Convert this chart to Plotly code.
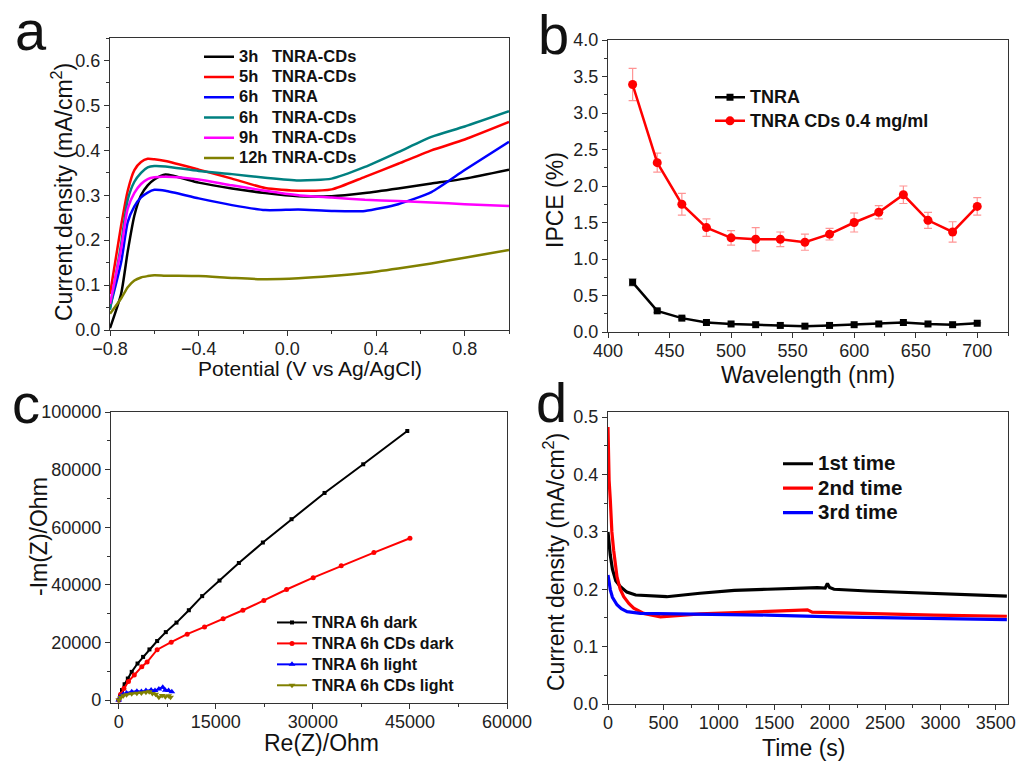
import plotly.graph_objects as go

# ---------------- Panel a: LSV curves ----------------
potential = [-0.80, -0.75, -0.72, -0.69, -0.66, -0.63, -0.60, -0.55, -0.40, -0.25,
             -0.10, 0.05, 0.20, 0.35, 0.50, 0.65, 0.80, 1.00]
j_3h = [0.004, 0.08, 0.175, 0.255, 0.30, 0.322, 0.335, 0.346, 0.328, 0.315,
        0.305, 0.298, 0.298, 0.305, 0.315, 0.326, 0.337, 0.357]
j_5h = [0.08, 0.232, 0.31, 0.356, 0.374, 0.381, 0.38, 0.376, 0.357, 0.337,
        0.316, 0.310, 0.313, 0.341, 0.370, 0.400, 0.424, 0.463]
j_6h_tnra = [0.05, 0.15, 0.24, 0.275, 0.295, 0.306, 0.312, 0.31, 0.293, 0.278,
             0.267, 0.268, 0.265, 0.265, 0.280, 0.307, 0.356, 0.419]
j_6h_cds = [0.045, 0.19, 0.29, 0.33, 0.35, 0.362, 0.365, 0.364, 0.354, 0.347,
            0.339, 0.333, 0.337, 0.363, 0.396, 0.430, 0.453, 0.487]
j_9h = [0.058, 0.18, 0.27, 0.305, 0.325, 0.336, 0.34, 0.341, 0.335, 0.322,
        0.31, 0.30, 0.295, 0.29, 0.287, 0.284, 0.28, 0.276]
j_12h = [0.036, 0.07, 0.095, 0.11, 0.117, 0.12, 0.122, 0.121, 0.12, 0.116,
         0.113, 0.115, 0.12, 0.127, 0.137, 0.148, 0.161, 0.178]
lsv_names = ["3h\u00a0\u00a0\u00a0TNRA-CDs", "5h\u00a0\u00a0\u00a0TNRA-CDs", "6h\u00a0\u00a0\u00a0TNRA",
             "6h\u00a0\u00a0\u00a0TNRA-CDs", "9h\u00a0\u00a0\u00a0TNRA-CDs", "12h TNRA-CDs"]
lsv_colors = ["#000000", "#FF0000", "#0000FF", "#008080", "#FF00FF", "#808000"]

# ---------------- Panel b: IPCE ----------------
wavelength = [420, 440, 460, 480, 500, 520, 540, 560, 580, 600, 620, 640, 660, 680, 700]
ipce_tnra = [0.68, 0.29, 0.19, 0.13, 0.11, 0.10, 0.09, 0.08, 0.09, 0.10, 0.11, 0.13, 0.11, 0.10, 0.12]
ipce_tnra_err = [0.05, 0.02, 0.02, 0.01, 0.01, 0.01, 0.01, 0.01, 0.01, 0.01, 0.01, 0.01, 0.01, 0.01, 0.01]
ipce_cds = [3.39, 2.32, 1.75, 1.43, 1.29, 1.27, 1.27, 1.23, 1.34, 1.50, 1.64, 1.88, 1.53, 1.37, 1.72]
ipce_cds_err = [0.22, 0.13, 0.15, 0.12, 0.10, 0.16, 0.10, 0.11, 0.08, 0.13, 0.09, 0.12, 0.11, 0.14, 0.12]
ipce_names = ["TNRA", "TNRA CDs 0.4 mg/ml"]

# ---------------- Panel c: Nyquist ----------------
re_dark = [0, 200, 500, 900, 1400, 2000, 2900, 3760, 4740, 5930, 7270, 8920, 10830,
           12890, 15570, 18560, 22270, 26700, 31800, 37780, 44590]
im_dark = [0, 1500, 3500, 5500, 7500, 9800, 12700, 15000, 17600, 20500, 23600, 26900,
           31200, 36100, 41500, 47600, 54700, 62800, 71900, 81850, 93400]
re_cds_dark = [0, 300, 800, 1500, 2400, 3560, 4380, 5930, 8100, 10570, 13250, 16130,
               19180, 22420, 25930, 30050, 34380, 39430, 45000]
im_cds_dark = [0, 2000, 4000, 6500, 8700, 11600, 13200, 17500, 20100, 22900, 25400,
               28200, 31200, 34600, 38400, 42500, 46600, 51200, 56200]
re_light = [0, 300, 700, 1200, 2000, 2800, 3500, 4200, 5000, 5600, 6200, 6800, 7200, 7700, 8200]
im_light = [0, 1300, 2000, 2500, 2900, 3100, 3000, 3300, 3500, 3300, 3900, 4500, 3400, 3300, 2900]
re_cds_light = [0, 300, 700, 1200, 2000, 2800, 3500, 4200, 4700, 5200, 5700, 6200, 6700, 7200, 7700, 8000]
im_cds_light = [0, 900, 1500, 1900, 2200, 2400, 2500, 2700, 2900, 2300, 2000, 1000, 1600, 1200, 1500, 1000]
eis_names = ["TNRA 6h dark", "TNRA 6h CDs dark", "TNRA 6h light", "TNRA 6h CDs light"]

# ---------------- Panel d: i-t stability ----------------
time_1 = [0, 10, 20, 40, 70, 110, 170, 250, 530, 830, 1140, 1440, 1740, 1890, 1960, 1980,
          2000, 2040, 2340, 2640, 2940, 3240, 3600]
j_1st = [0.30, 0.275, 0.26, 0.235, 0.215, 0.205, 0.195, 0.19, 0.187, 0.193, 0.198, 0.200,
         0.202, 0.203, 0.202, 0.21, 0.203, 0.200, 0.197, 0.195, 0.192, 0.190, 0.188]
time_2 = [0, 5, 10, 21, 35, 51, 81, 110, 142, 190, 232, 322, 473, 834, 1136, 1437, 1800,
          1843, 2040, 2490, 2940, 3600]
j_2nd = [0.483, 0.43, 0.39, 0.355, 0.30, 0.268, 0.222, 0.200, 0.187, 0.175, 0.167, 0.158,
         0.152, 0.157, 0.159, 0.162, 0.164, 0.160, 0.159, 0.157, 0.155, 0.153]
time_3 = [0, 10, 21, 40, 81, 120, 172, 292, 834, 1440, 2040, 2640, 3240, 3600]
j_3rd = [0.225, 0.21, 0.199, 0.186, 0.173, 0.166, 0.161, 0.158, 0.157, 0.155, 0.152,
         0.150, 0.148, 0.147]
it_names = ["1st time", "2nd time", "3rd time"]

FONT = "Liberation Sans, Arial, sans-serif"


def big(name, size):
    # legend label drawn larger than the legend's row spacing font
    return "<span style='font-size:%spx'>%s</span>" % (size, name)


fig = go.Figure()

# Panel a traces
for ys, name, col in zip([j_3h, j_5h, j_6h_tnra, j_6h_cds, j_9h, j_12h], lsv_names, lsv_colors):
    fig.add_trace(go.Scatter(x=potential, y=ys, name=big(name, 16.5), mode="lines",
                             line=dict(color=col, width=2.5, shape="spline", smoothing=0.6),
                             xaxis="x", yaxis="y", legend="legend"))

# Panel b traces
fig.add_trace(go.Scatter(x=wavelength, y=ipce_tnra, name=big(ipce_names[0], 18), mode="lines+markers",
                         line=dict(color="black", width=2.5),
                         marker=dict(symbol="square", size=7, color="black"),
                         error_y=dict(type="data", array=ipce_tnra_err, color="rgba(120,120,120,0.6)",
                                      thickness=1.2, width=4),
                         xaxis="x2", yaxis="y2", legend="legend2"))
fig.add_trace(go.Scatter(x=wavelength, y=ipce_cds, name=big(ipce_names[1], 18), mode="lines+markers",
                         line=dict(color="#FF0000", width=2.5),
                         marker=dict(symbol="circle", size=9, color="#FF0000"),
                         error_y=dict(type="data", array=ipce_cds_err, color="rgba(255,60,60,0.55)",
                                      thickness=1.2, width=4),
                         xaxis="x2", yaxis="y2", legend="legend2"))

# Panel c traces
eis_sets = [(re_dark, im_dark, "#000000", "square", 4),
            (re_cds_dark, im_cds_dark, "#FF0000", "circle", 5),
            (re_light, im_light, "#0000FF", "triangle-up", 6),
            (re_cds_light, im_cds_light, "#808000", "triangle-down", 6)]
for (xs, ys, col, sym, sz), name in zip(eis_sets, eis_names):
    fig.add_trace(go.Scatter(x=xs, y=ys, name=big(name, 16), mode="lines+markers",
                             line=dict(color=col, width=2),
                             marker=dict(symbol=sym, size=sz, color=col),
                             xaxis="x3", yaxis="y3", legend="legend3"))

# Panel d traces
for xs, ys, name, col in zip([time_1, time_2, time_3], [j_1st, j_2nd, j_3rd], it_names,
                             ["#000000", "#FF0000", "#0000FF"]):
    fig.add_trace(go.Scatter(x=xs, y=ys, name=big(name, 20.5), mode="lines",
                             line=dict(color=col, width=3.2),
                             xaxis="x4", yaxis="y4", legend="legend4"))


def ax(domain, rng, dtick, minor, fmt, anchor, tick0=None, standoff=0):
    d = dict(domain=domain, range=rng, dtick=dtick, showline=True, mirror=True,
             linecolor="#333333", linewidth=1.3, ticks="outside", ticklen=5, tickwidth=1.2,
             tickcolor="#333333", showgrid=False, zeroline=False, anchor=anchor,
             automargin=False, ticklabelstandoff=standoff,
             tickfont=dict(family=FONT, size=18, color="#222222"),
             minor=dict(ticks="outside", ticklen=3, tickwidth=1, tickcolor="#333333", dtick=minor))
    if fmt:
        d["tickformat"] = fmt
    if tick0 is not None:
        d["tick0"] = tick0
    return d


W, H = 1017, 761
def px(x):
    return x / W
def py(y):
    return 1 - y / H

def leg(x, y, size):
    return dict(x=px(x), y=py(y), xanchor="left", yanchor="top", bgcolor="rgba(0,0,0,0)",
                borderwidth=0, tracegroupgap=0,
                font=dict(family=FONT, size=size, color="#111111", weight="bold"))

fig.update_layout(
    template="none",
    width=W, height=H, margin=dict(l=0, r=0, t=0, b=0, autoexpand=False),
    paper_bgcolor="white", plot_bgcolor="white",
    font=dict(family=FONT, color="#222222"),
    xaxis=ax([px(110), px(509)], [-0.8, 1.0], 0.4, 0.2, ".1f", "y", tick0=-0.8, standoff=-3),
    yaxis=ax([py(330), py(38)], [0, 0.65], 0.1, 0.05, ".1f", "x"),
    xaxis2=ax([px(608), px(1008)], [400, 725], 50, 25, None, "y2", standoff=-3),
    yaxis2=ax([py(332), py(40)], [0, 4.0], 0.5, 0.25, ".1f", "x2"),
    xaxis3=ax([px(111), px(507)], [-1200, 60000], 15000, 7500, "d", "y3", standoff=-3),
    yaxis3=ax([py(703), py(412)], [-1000, 100000], 20000, 10000, "d", "x3"),
    xaxis4=ax([px(608), px(1008)], [0, 3610], 500, 250, "d", "y4", standoff=-3),
    yaxis4=ax([py(704), py(412)], [0, 0.509], 0.1, 0.05, ".1f", "x4"),
    legend=leg(199, 41.5, 13.3),
    legend2=leg(710, 80.5, 15.8),
    legend3=leg(272, 607, 13.8),
    legend4=leg(778, 446.5, 16.5),
)

annots = [
    # axis titles
    dict(text="Potential (V vs Ag/AgCl)", x=px(310), y=py(368), size=21, angle=0),
    dict(text="Current density (mA/cm<sup>2</sup>)", x=px(62), y=py(192), size=23, angle=-90),
    dict(text="Wavelength (nm)", x=px(808), y=py(375), size=23, angle=0),
    dict(text="IPCE (%)", x=px(555), y=py(200), size=23, angle=-90),
    dict(text="Re(Z)/Ohm", x=px(321), y=py(743), size=23, angle=0),
    dict(text="-Im(Z)/Ohm", x=px(39), y=py(537), size=23, angle=-90),
    dict(text="Time (s)", x=px(803), y=py(748), size=23, angle=0),
    dict(text="Current density (mA/cm<sup>2</sup>)", x=px(554), y=py(562), size=23, angle=-90),
    # panel letters
    dict(text="a", x=px(31), y=py(31), size=56, angle=0),
    dict(text="b", x=px(553), y=py(34), size=56, angle=0),
    dict(text="c", x=px(26), y=py(404), size=56, angle=0),
    dict(text="d", x=px(551), y=py(402), size=56, angle=0),
]
for a in annots:
    fig.add_annotation(text=a["text"], x=a["x"], y=a["y"], xref="paper", yref="paper",
                       xanchor="center", yanchor="middle", showarrow=False, textangle=a["angle"],
                       font=dict(family=FONT, size=a["size"], color="#111111"))

fig.write_html("out.html", config={"displayModeBar": False},
               post_script="document.body.style.margin='0px';document.body.style.overflow='hidden';")
